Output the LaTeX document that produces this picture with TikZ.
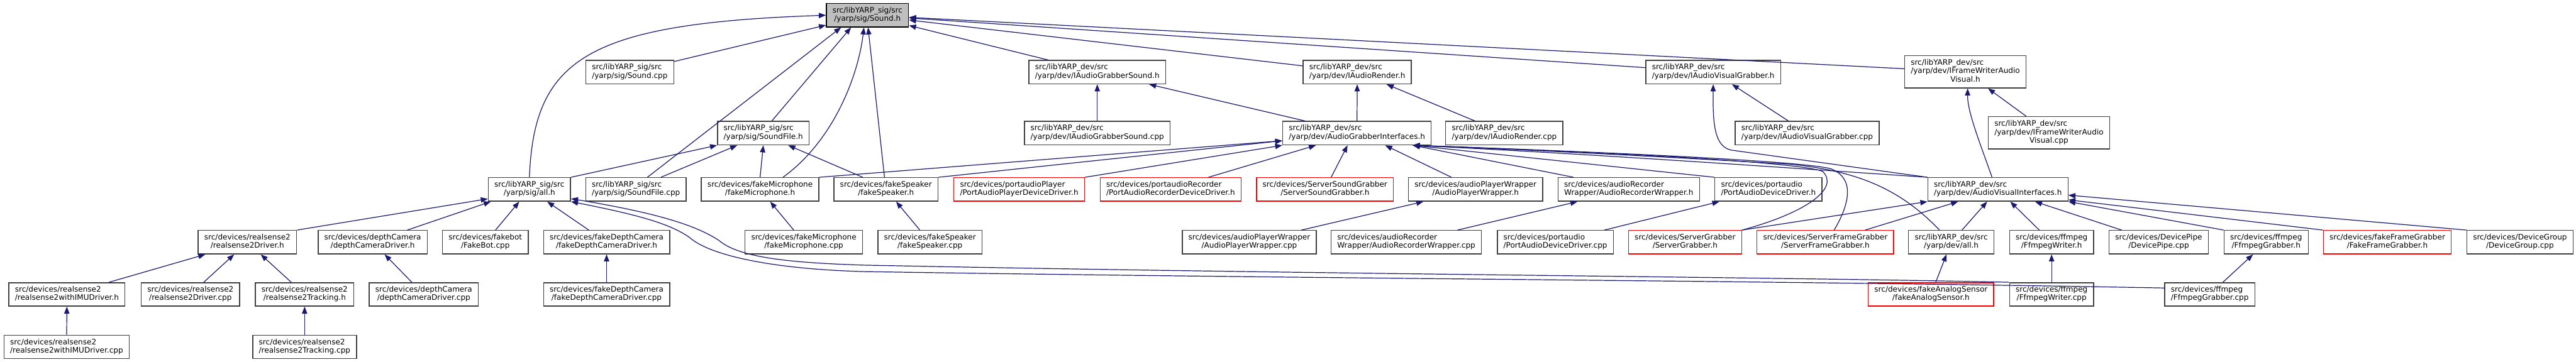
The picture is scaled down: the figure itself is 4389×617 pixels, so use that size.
\documentclass[tikz,border=0pt]{standalone}
\usepackage{fontspec}
\setmainfont{DejaVu Sans}
\usetikzlibrary{arrows.meta}
\definecolor{edgeblue}{HTML}{191970}
\definecolor{boxgrey}{HTML}{404040}
\definecolor{selfgrey}{HTML}{BFBFBF}
\newcommand{\flbl}[2]{\begin{tabular}{@{}l@{}}#1\\\multicolumn{1}{@{}c@{}}{#2}\end{tabular}}
\newcommand{\flblthree}[3]{\begin{tabular}{@{}l@{}}#1\\#2\\\multicolumn{1}{@{}c@{}}{#3}\end{tabular}}
\tikzset{
  incfile/.style={draw=boxgrey, fill=white, line width=1.5pt, minimum height=40pt,
    inner xsep=10.5pt, inner ysep=0pt},
  redfile/.style={incfile, draw=red},
  curfile/.style={incfile, draw=black, fill=selfgrey},
  incedge/.style={draw=edgeblue, line width=1.3pt, -{Triangle[length=12pt,width=9pt]}}
}
\begin{document}
\begin{tikzpicture}[x=1pt,y=-1pt,font=\fontsize{12.9pt}{14.3pt}\selectfont]
  \useasboundingbox (0,0) rectangle (4389,617);
  % row 1
  \node[curfile] (soundh) at (1478,26) {\flbl{src/libYARP\_sig/src}{/yarp/sig/Sound.h}};
  % row 2
  \node[incfile] (soundcpp) at (1073,123) {\flbl{src/libYARP\_sig/src}{/yarp/sig/Sound.cpp}};
  \node[incfile] (iagsh) at (1869.5,123) {\flbl{src/libYARP\_dev/src}{/yarp/dev/IAudioGrabberSound.h}};
  \node[incfile] (iarh) at (2312.5,123) {\flbl{src/libYARP\_dev/src}{/yarp/dev/IAudioRender.h}};
  \node[incfile] (iavgh) at (2919,123) {\flbl{src/libYARP\_dev/src}{/yarp/dev/IAudioVisualGrabber.h}};
  \node[incfile,minimum height=55pt] (ifwavh) at (3348.5,122.5)
    {\flblthree{src/libYARP\_dev/src}{/yarp/dev/IFrameWriterAudio}{Visual.h}};
  % row 3
  \node[incfile] (soundfileh) at (1300.5,227) {\flbl{src/libYARP\_sig/src}{/yarp/sig/SoundFile.h}};
  \node[incfile] (iagscpp) at (1869.5,227) {\flbl{src/libYARP\_dev/src}{/yarp/dev/IAudioGrabberSound.cpp}};
  \node[incfile] (agih) at (2312,227) {\flbl{src/libYARP\_dev/src}{/yarp/dev/AudioGrabberInterfaces.h}};
  \node[incfile] (iarcpp) at (2563,227) {\flbl{src/libYARP\_dev/src}{/yarp/dev/IAudioRender.cpp}};
  \node[incfile] (iavgcpp) at (3079,227) {\flbl{src/libYARP\_dev/src}{/yarp/dev/IAudioVisualGrabber.cpp}};
  \node[incfile,minimum height=55pt] (ifwavcpp) at (3491,226.5)
    {\flblthree{src/libYARP\_dev/src}{/yarp/dev/IFrameWriterAudio}{Visual.cpp}};
  % row 4
  \node[incfile] (sigallh) at (902,323) {\flbl{src/libYARP\_sig/src}{/yarp/sig/all.h}};
  \node[incfile] (soundfilecpp) at (1083.5,323) {\flbl{src/libYARP\_sig/src}{/yarp/sig/SoundFile.cpp}};
  \node[incfile] (fakemich) at (1295,323) {\flbl{src/devices/fakeMicrophone}{/fakeMicrophone.h}};
  \node[incfile] (fakespkh) at (1509.5,323) {\flbl{src/devices/fakeSpeaker}{/fakeSpeaker.h}};
  \node[redfile] (paplayerh) at (1736.5,323) {\flbl{src/devices/portaudioPlayer}{/PortAudioPlayerDeviceDriver.h}};
  \node[redfile] (parech) at (1994.5,323) {\flbl{src/devices/portaudioRecorder}{/PortAudioRecorderDeviceDriver.h}};
  \node[redfile] (ssgh) at (2257.5,323) {\flbl{src/devices/ServerSoundGrabber}{/ServerSoundGrabber.h}};
  \node[incfile] (apwh) at (2514,323) {\flbl{src/devices/audioPlayerWrapper}{/AudioPlayerWrapper.h}};
  \node[incfile] (arwh) at (2775,323) {\flbl{src/devices/audioRecorder}{Wrapper/AudioRecorderWrapper.h}};
  \node[incfile] (padh) at (3013,323) {\flbl{src/devices/portaudio}{/PortAudioDeviceDriver.h}};
  \node[incfile] (avih) at (3404,323) {\flbl{src/libYARP\_dev/src}{/yarp/dev/AudioVisualInterfaces.h}};
  % row 5
  \node[incfile] (rs2h) at (421.5,413) {\flbl{src/devices/realsense2}{/realsense2Driver.h}};
  \node[incfile] (dcamh) at (635,413) {\flbl{src/devices/depthCamera}{/depthCameraDriver.h}};
  \node[incfile] (fakebotcpp) at (827,413) {\flbl{src/devices/fakebot}{/FakeBot.cpp}};
  \node[incfile] (fdcamh) at (1033.5,413) {\flbl{src/devices/fakeDepthCamera}{/fakeDepthCameraDriver.h}};
  \node[incfile] (fakemiccpp) at (1369.5,413) {\flbl{src/devices/fakeMicrophone}{/fakeMicrophone.cpp}};
  \node[incfile] (fakespkcpp) at (1584.5,413) {\flbl{src/devices/fakeSpeaker}{/fakeSpeaker.cpp}};
  \node[incfile] (apwcpp) at (2128.5,413) {\flbl{src/devices/audioPlayerWrapper}{/AudioPlayerWrapper.cpp}};
  \node[incfile] (arwcpp) at (2396,413) {\flbl{src/devices/audioRecorder}{Wrapper/AudioRecorderWrapper.cpp}};
  \node[incfile] (padcpp) at (2650,413) {\flbl{src/devices/portaudio}{/PortAudioDeviceDriver.cpp}};
  \node[redfile] (sgh) at (2871,413) {\flbl{src/devices/ServerGrabber}{/ServerGrabber.h}};
  \node[redfile] (sfgh) at (3110,413) {\flbl{src/devices/ServerFrameGrabber}{/ServerFrameGrabber.h}};
  \node[incfile] (devallh) at (3324.5,413) {\flbl{src/libYARP\_dev/src}{/yarp/dev/all.h}};
  \node[incfile] (ffwh) at (3495.5,413) {\flbl{src/devices/ffmpeg}{/FfmpegWriter.h}};
  \node[incfile] (dpipecpp) at (3678,413) {\flbl{src/devices/DevicePipe}{/DevicePipe.cpp}};
  \node[incfile] (ffgh) at (3861,413) {\flbl{src/devices/ffmpeg}{/FfmpegGrabber.h}};
  \node[redfile] (ffgrh) at (4067.5,413) {\flbl{src/devices/fakeFrameGrabber}{/FakeFrameGrabber.h}};
  \node[incfile] (dgroupcpp) at (4293.5,413) {\flbl{src/devices/DeviceGroup}{/DeviceGroup.cpp}};
  % row 6
  \node[incfile] (rs2imuh) at (114,502) {\flbl{src/devices/realsense2}{/realsense2withIMUDriver.h}};
  \node[incfile] (rs2cpp) at (324.5,502) {\flbl{src/devices/realsense2}{/realsense2Driver.cpp}};
  \node[incfile] (rs2trkh) at (519,502) {\flbl{src/devices/realsense2}{/realsense2Tracking.h}};
  \node[incfile] (dcamcpp) at (722,502) {\flbl{src/devices/depthCamera}{/depthCameraDriver.cpp}};
  \node[incfile] (fdcamcpp) at (1033.5,502) {\flbl{src/devices/fakeDepthCamera}{/fakeDepthCameraDriver.cpp}};
  \node[redfile] (fasensh) at (3290,502) {\flbl{src/devices/fakeAnalogSensor}{/fakeAnalogSensor.h}};
  \node[incfile] (ffwcpp) at (3495.5,502) {\flbl{src/devices/ffmpeg}{/FfmpegWriter.cpp}};
  \node[incfile] (ffgcpp) at (3765,502) {\flbl{src/devices/ffmpeg}{/FfmpegGrabber.cpp}};
  % row 7
  \node[incfile] (rs2imucpp) at (113.5,591.5) {\flbl{src/devices/realsense2}{/realsense2withIMUDriver.cpp}};
  \node[incfile] (rs2trkcpp) at (519,591.5) {\flbl{src/devices/realsense2}{/realsense2Tracking.cpp}};
  % includes of Sound.h
  \draw[incedge] (soundcpp) -- (soundh);
  \draw[incedge] (sigallh.north) .. controls (910,100) and (1000,40) .. (soundh.west);
  \draw[incedge] ([xshift=19.5pt]soundfilecpp.north) -- ([xshift=-45pt]soundh.south);
  \draw[incedge] ([xshift=14.5pt]soundfileh.north) -- ([xshift=-28pt]soundh.south);
  \draw[incedge] ([xshift=39pt]fakemich.north) .. controls (1420,240) and (1462,130) .. ([xshift=-6pt]soundh.south);
  \draw[incedge] ([xshift=-2.5pt]fakespkh.north) -- ([xshift=1pt]soundh.south);
  \draw[incedge] (iagsh) -- (soundh);
  \draw[incedge] (iarh) -- (soundh);
  \draw[incedge] (iavgh) -- (soundh);
  \draw[incedge] (ifwavh) -- (soundh);
  % SoundFile.h
  \draw[incedge] (sigallh.north east) -- (soundfileh.south west);
  \draw[incedge] ([xshift=42.5pt]soundfilecpp.north) -- ([xshift=-44.5pt]soundfileh.south);
  \draw[incedge] (fakemich.north) -- (soundfileh.south);
  \draw[incedge] ([xshift=-39.5pt]fakespkh.north) -- ([xshift=42.5pt]soundfileh.south);
  % second row headers
  \draw[incedge] (iagscpp) -- (iagsh);
  \draw[incedge] (agih) -- (iagsh);
  \draw[incedge] (agih) -- (iarh);
  \draw[incedge] (iarcpp) -- (iarh);
  \draw[incedge] (iavgcpp) -- (iavgh);
  \draw[incedge] (avih.north west) -- (2950,256) .. controls (2922,250) and (2918,215) .. (iavgh.south);
  \draw[incedge] ([xshift=-10pt]avih.north) .. controls (3372,240) and (3352,190) .. ([xshift=4pt]ifwavh.south);
  \draw[incedge] (ifwavcpp) -- (ifwavh);
  % AudioGrabberInterfaces.h
  \draw[incedge] (fakemich.north east) -- ([yshift=-13pt]agih.west);
  \draw[incedge] (fakespkh.north east) -- ([yshift=-13pt]agih.west);
  \draw[incedge] (paplayerh.north east) -- (agih.south west);
  \draw[incedge] ([xshift=64.5pt]parech.north) -- ([xshift=-70pt]agih.south);
  \draw[incedge] ([xshift=10.5pt]ssgh.north) -- ([xshift=-16pt]agih.south);
  \draw[incedge] ([xshift=-41pt]apwh.north) -- ([xshift=48pt]agih.south);
  \draw[incedge] ([xshift=-94pt]arwh.north) -- ([xshift=95pt]agih.south);
  \draw[incedge] (padh.north west) -- ([xshift=95pt]agih.south);
  \draw[incedge] (sgh.north east) .. controls (3080,362) and (3135,320) .. (3105,292)
    .. controls (3060,275) and (2700,258) .. ([xshift=95pt]agih.south);
  \draw[incedge] ([xshift=15pt]sfgh.north) .. controls (3150,350) and (3162,305) .. (3120,288)
    .. controls (3075,274) and (2700,258) .. ([xshift=95pt]agih.south);
  \draw[incedge] ([xshift=-20pt]devallh.north) .. controls (3240,325) and (3170,292) .. (3050,280)
    .. controls (2850,268) and (2600,255) .. ([xshift=95pt]agih.south);
  \draw[incedge] (avih.north west) .. controls (3000,283) and (2700,262) .. ([xshift=95pt]agih.south);
  % yarp/sig/all.h
  \draw[incedge] (rs2h.north east) -- ([yshift=-16pt]sigallh.west);
  \draw[incedge] ([xshift=59pt]dcamh.north) -- ([xshift=5pt]sigallh.south west);
  \draw[incedge] (fakebotcpp) -- (sigallh);
  \draw[incedge] (fdcamh) -- (sigallh);
  \draw[incedge] (ffwcpp.north west) .. controls (3000,472) and (2200,467) .. (1470,452)
    .. controls (1350,448) and (1260,440) .. (1225,410)
    .. controls (1180,380) and (1100,360) .. ([yshift=5pt]sigallh.south east);
  \draw[incedge] ([yshift=11pt]ffgcpp.west) .. controls (3000,478) and (2200,475) .. (1470,463)
    .. controls (1300,458) and (1205,432) .. (1175,405)
    .. controls (1140,380) and (1080,365) .. (sigallh.south east);
  % fourth row headers
  \draw[incedge] (fakemiccpp) -- (fakemich);
  \draw[incedge] (fakespkcpp) -- (fakespkh);
  \draw[incedge] (apwcpp) -- (apwh);
  \draw[incedge] (arwcpp) -- (arwh);
  \draw[incedge] (padcpp) -- (padh);
  \draw[incedge] (sgh.north east) -- (avih.south west);
  \draw[incedge] (sfgh) -- (avih);
  \draw[incedge] (devallh) -- (avih);
  \draw[incedge] (ffwh) -- (avih);
  \draw[incedge] (dpipecpp) -- (avih);
  \draw[incedge] (ffgh.north west) -- (avih.south east);
  \draw[incedge] (ffgrh.north west) -- ([yshift=3pt]avih.south east);
  \draw[incedge] (dgroupcpp.north west) -- ([yshift=11pt]avih.south east);
  % lower rows
  \draw[incedge] (rs2imuh) -- (rs2h);
  \draw[incedge] (rs2cpp) -- (rs2h);
  \draw[incedge] (rs2trkh) -- (rs2h);
  \draw[incedge] (rs2imucpp) -- (rs2imuh);
  \draw[incedge] (rs2trkcpp) -- (rs2trkh);
  \draw[incedge] (dcamcpp) -- (dcamh);
  \draw[incedge] (fdcamcpp) -- (fdcamh);
  \draw[incedge] (fasensh) -- (devallh);
  \draw[incedge] (ffwcpp) -- (ffwh);
  \draw[incedge] (ffgcpp) -- (ffgh);
\end{tikzpicture}
\end{document}
